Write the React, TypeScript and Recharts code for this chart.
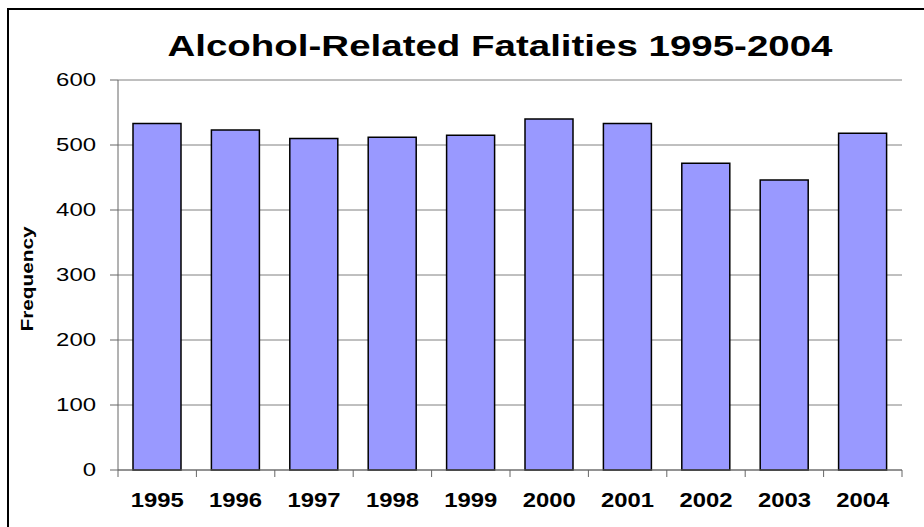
import React from 'react'
import { BarChart, Bar, XAxis, YAxis, CartesianGrid } from 'recharts'

const YEARS = ['1995', '1996', '1997', '1998', '1999', '2000', '2001', '2002', '2003', '2004']
const FATALITIES = [533, 523, 510, 512, 515, 540, 533, 472, 446, 518]
const Y_TICKS = [0, 100, 200, 300, 400, 500, 600]

const FONT = '"Liberation Sans", Arial, sans-serif'
const AXIS_COLOR = '#666666'

const data = YEARS.map((year, i) => ({ year, value: FATALITIES[i] }))

// Excel-style x tick: marks sit on category boundaries, labels stretched to match the original
const XTick = (props: any) => {
  const { x, y, payload, index, width, visibleTicksCount } = props
  const step = width && visibleTicksCount ? width / visibleTicksCount : 78.4
  const left = x - step / 2
  return (
    <g>
      <line x1={left} y1={y} x2={left} y2={y + 7} stroke={AXIS_COLOR} strokeWidth={1} />
      {index === visibleTicksCount - 1 && (
        <line x1={x + step / 2} y1={y} x2={x + step / 2} y2={y + 7} stroke={AXIS_COLOR} strokeWidth={1} />
      )}
      <text
        x={x}
        y={y + 37}
        textAnchor="middle"
        fontFamily={FONT}
        fontWeight="bold"
        fontSize={21}
        fill="#000"
        textLength={53}
        lengthAdjust="spacingAndGlyphs"
      >
        {payload.value}
      </text>
    </g>
  )
}

const YTick = (props: any) => {
  const { x, y, payload } = props
  const label = String(payload.value)
  return (
    <text
      x={x}
      y={y}
      dy="0.36em"
      textAnchor="end"
      fontFamily={FONT}
      fontSize={18}
      fill="#000"
      textLength={label.length * 13.3}
      lengthAdjust="spacingAndGlyphs"
    >
      {label}
    </text>
  )
}

export default function App() {
  return (
    <div style={{ position: 'absolute', left: 0, top: 0, width: 924, height: 527, background: '#fff', overflow: 'hidden' }}>
      <div
        style={{
          position: 'absolute',
          left: 7,
          top: 8,
          width: 940,
          height: 540,
          borderLeft: '2px solid #000',
          borderTop: '2px solid #000'
        }}
      />
      <BarChart
        width={924}
        height={527}
        data={data}
        margin={{ top: 80, right: 22, bottom: 10, left: 0 }}
        style={{ position: 'absolute', left: 0, top: 0 }}
      >
        <CartesianGrid vertical={false} stroke="#808080" strokeWidth={1} />
        <XAxis
          dataKey="year"
          height={47}
          tickSize={0}
          tickMargin={0}
          tickLine={false}
          axisLine={{ stroke: AXIS_COLOR, strokeWidth: 1 }}
          tick={<XTick />}
          interval={0}
        />
        <YAxis
          width={118}
          domain={[0, 600]}
          ticks={Y_TICKS}
          interval={0}
          tickSize={8}
          tickMargin={14}
          tickLine={{ stroke: AXIS_COLOR }}
          axisLine={{ stroke: AXIS_COLOR, strokeWidth: 1 }}
          tick={<YTick />}
        />
        <Bar dataKey="value" fill="#9999FF" stroke="#000" strokeWidth={1.5} barSize={48} isAnimationActive={false} />
      </BarChart>
      <svg width={924} height={527} style={{ position: 'absolute', left: 0, top: 0, pointerEvents: 'none' }}>
        <text
          x={500}
          y={56}
          textAnchor="middle"
          fontFamily={FONT}
          fontWeight="bold"
          fontSize={29}
          fill="#000"
          textLength={665}
          lengthAdjust="spacingAndGlyphs"
        >
          Alcohol-Related Fatalities 1995-2004
        </text>
        <text
          x={33}
          y={279}
          transform="rotate(-90 33 279)"
          textAnchor="middle"
          fontFamily={FONT}
          fontWeight="bold"
          fontSize={17}
          fill="#000"
          textLength={105}
          lengthAdjust="spacingAndGlyphs"
        >
          Frequency
        </text>
      </svg>
    </div>
  )
}
